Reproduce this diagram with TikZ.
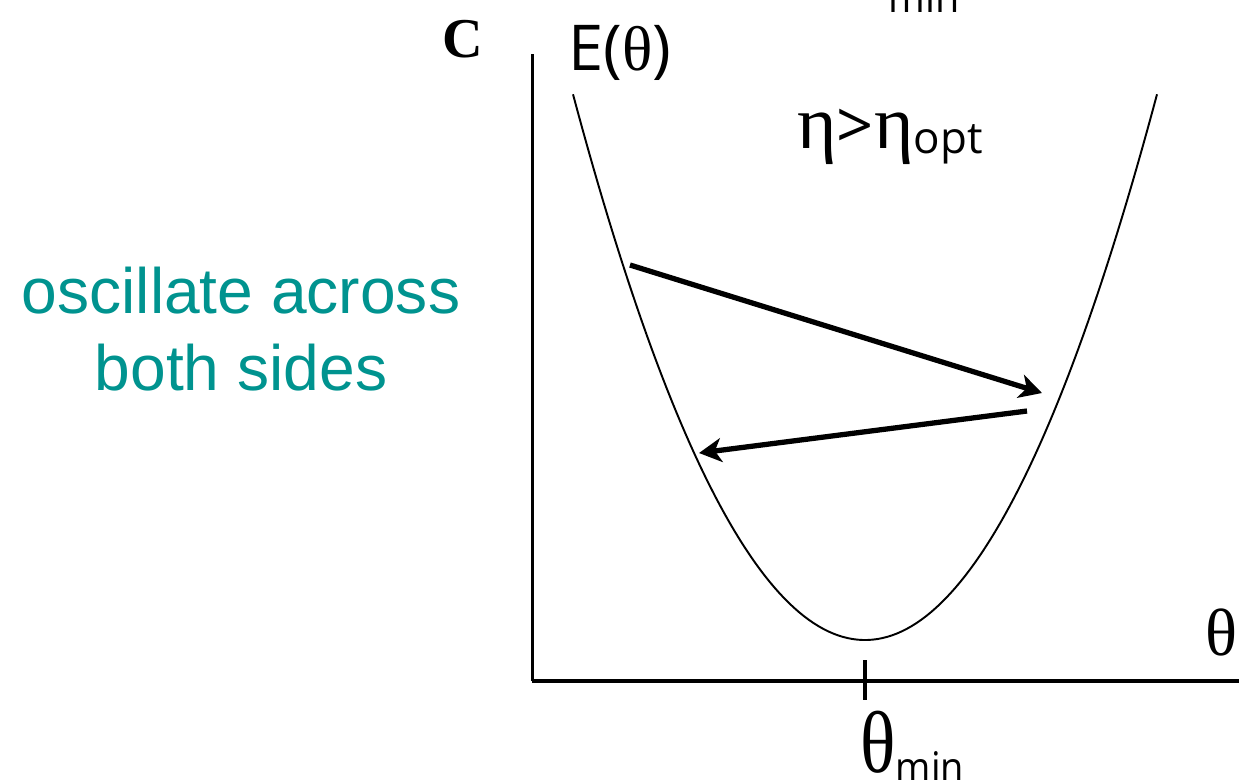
\documentclass[tikz,border=0pt]{standalone}
\usepackage{fontspec}
\setmainfont{Liberation Serif}
\newfontfamily\myr{Open Sans}
\newfontfamily\helv{Liberation Sans}
\usepackage{tikz}
\usetikzlibrary{arrows.meta,calc,positioning}
\definecolor{tealtxt}{RGB}{0,147,143}
\newcommand{\Emin}[1]{{\myr\fontsize{#1}{#1}\selectfont\scalebox{0.9}[1]{min}}}

\begin{document}
\begin{tikzpicture}[x=0.02cm,y=-0.02cm,
  curve/.style={line width=1.1pt},
  axis/.style={line width=2.2pt},
  jump/.style={line width=3pt,-{Stealth[length=0.45cm,width=0.48cm,inset=0.13cm]}},
  lbl/.style={inner sep=0pt,anchor=base west}]
  \useasboundingbox (0,0) rectangle (1239,779);
  % axes and tick
  \coordinate (o) at (532,681); \coordinate (ytop) at (532,54); \coordinate (xend) at (1239,681);
  \draw[line width=1.7pt] (o)--(ytop); \draw[axis] (o)--(xend);
  \coordinate (tk1) at (865,660); \coordinate (tk2) at (865,700);
  \draw[axis] (tk1)--(tk2);
  % error curve
  \draw[curve] plot[domain=-292:292,samples=120] ({865+\x},{640-(0.08*\x)*(0.08*\x)});
  % overshooting steps
  \coordinate (s1) at (630,265); \coordinate (s2) at (1042,393);
  \coordinate (s3) at (1027,411); \coordinate (s4) at (699,453);
  \draw[jump] (s1)--(s2); \draw[jump] (s3)--(s4);
  % labels
  \node[lbl,font=\bfseries\fontsize{32}{36}\selectfont] (pc) at (442,57) {C};
  \node[lbl,font=\fontsize{36}{42}\selectfont] (ey) at (568,70) {{\myr E(}θ{\myr )}};
  \node[lbl,font=\fontsize{43}{46}\selectfont] (eta) at (797,148) {η{\myr\fontsize{37}{40}\selectfont >}η{\myr\fontsize{25}{28}\selectfont\raisebox{-3pt}{opt}}};
  \node[lbl,font=\fontsize{38}{42}\selectfont] (th) at (1205,655) {θ};
  \node[lbl,font=\fontsize{50}{54}\selectfont] (thmin) at (860,772) {\scalebox{0.84}[1]{θ}\raisebox{-6pt}{\Emin{24}}};
  \node[lbl] (topmin) at (888,12) {\Emin{25}};
  \foreach \t/\y in {oscillate across/313,both sides/390}
    \node[inner sep=0pt,anchor=base,text=tealtxt,font=\helv\fontsize{36.5}{40}\selectfont] at (241,\y) {\t};
\end{tikzpicture}
\end{document}
